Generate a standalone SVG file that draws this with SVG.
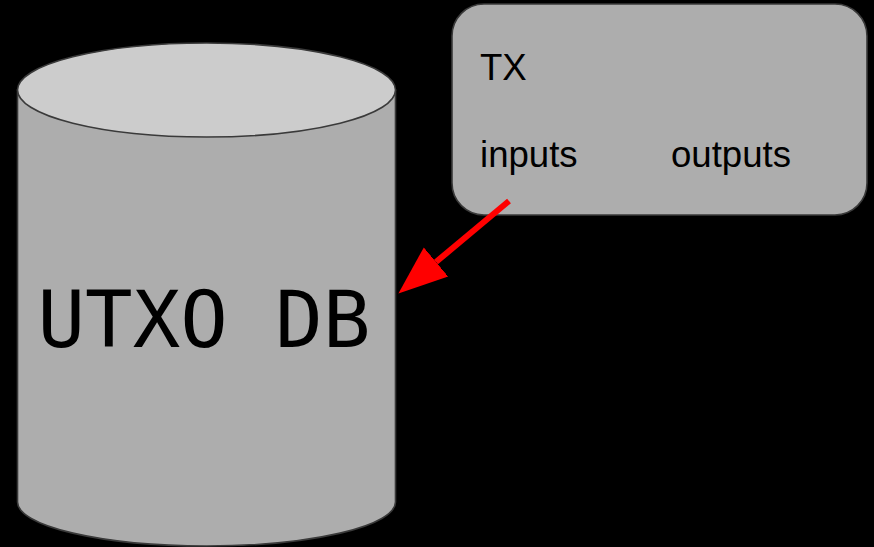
<svg xmlns="http://www.w3.org/2000/svg" width="874" height="547" viewBox="0 0 874 547">
<style>
.shape{fill:#adadad;stroke:#3a3a3a;stroke-width:1.6}
.lbl{font-family:"Liberation Sans",Arial,sans-serif;font-size:36.6px;fill:#000}
.db{font-family:"DejaVu Sans Mono",monospace;font-size:79px;fill:#000}
.conn{stroke:#ff0000;stroke-width:6;fill:none}
</style>
<defs>
<marker id="head" markerUnits="userSpaceOnUse" markerWidth="50" markerHeight="40" viewBox="0 -20 50 40" refX="0" refY="0" orient="auto">
<path d="M0,-19 L49,0 L0,19 Z" fill="#ff0000"/>
</marker>
</defs>
<rect width="874" height="547" fill="#000"/>
<g id="utxo-db">
<path class="shape" d="M17.5,90 V502 A189,44 0 0 0 395.5,502 V90 Z"/>
<ellipse cx="206.5" cy="90" rx="189" ry="47" fill="#cccccc" stroke="#3a3a3a" stroke-width="1.6"/>
<text class="db" x="204" y="347" text-anchor="middle">UTXO DB</text>
</g>
<g id="tx">
<rect class="shape" x="452" y="4" width="415" height="211" rx="32" ry="32"/>
<text class="lbl" x="480" y="80">TX</text>
<text class="lbl" x="480" y="167">inputs</text>
<text class="lbl" x="671" y="167">outputs</text>
</g>
<g id="connectors">
<path class="conn" d="M509,201 L436,262" marker-end="url(#head)"/>
</g>
</svg>
